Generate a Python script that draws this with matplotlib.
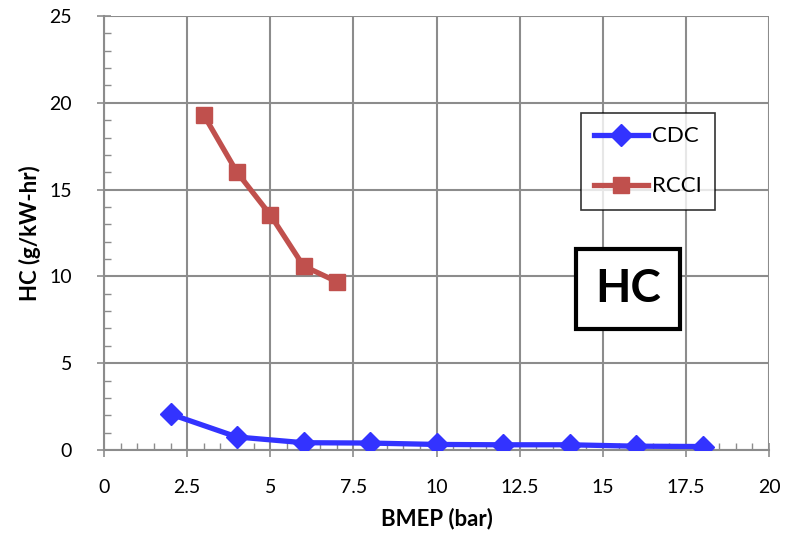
import numpy as np
import matplotlib
matplotlib.use("Agg")
import matplotlib.pyplot as plt
from matplotlib.ticker import MultipleLocator

plt.rcParams['font.family'] = ['Lato', 'DejaVu Sans']

# data
cdc_x = [2, 4, 6, 8, 10, 12, 14, 16, 18]
cdc_y = [2.07, 0.75, 0.42, 0.4, 0.32, 0.3, 0.3, 0.22, 0.2]
rcci_x = [3, 4, 5, 6, 7]
rcci_y = [19.3, 16.0, 13.55, 10.6, 9.7]

fig = plt.figure(figsize=(7.98, 5.4), dpi=100)
ax = fig.add_axes([104/798, 90/540, 665/798, 434/540])

grid_col = '#8c8c8c'
ax.plot(cdc_x, cdc_y, color='#3333ff', lw=3.8, marker='D', ms=11, label='CDC', zorder=3)
ax.plot(rcci_x, rcci_y, color='#c0504d', lw=3.8, marker='s', ms=12, label='RCCI', zorder=3)

ax.set_xlim(0, 20)
ax.set_ylim(0, 25)
ax.xaxis.set_major_locator(MultipleLocator(2.5))
ax.xaxis.set_minor_locator(MultipleLocator(0.5))
ax.yaxis.set_major_locator(MultipleLocator(5))
ax.yaxis.set_minor_locator(MultipleLocator(1))
ax.xaxis.set_major_formatter(plt.FuncFormatter(lambda v, p: ('%g' % v)))
ax.grid(True, which='major', color=grid_col, lw=1.5)
ax.tick_params(which='major', direction='inout', length=10, width=1.2, color=grid_col,
               labelsize=14)
ax.tick_params(axis='x', which='major', pad=16)
ax.tick_params(axis='y', which='major', pad=18)
ax.tick_params(which='minor', direction='in', length=5, width=1, color=grid_col)
for s in ['top', 'right']:
    ax.spines[s].set_visible(False)
for s in ['left', 'bottom']:
    ax.spines[s].set_color(grid_col)
    ax.spines[s].set_linewidth(1.5)

ax.set_xlabel('BMEP (bar)', fontsize=16, fontweight='bold', labelpad=8)
ax.set_ylabel('HC (g/kW-hr)', fontsize=16, fontweight='bold', labelpad=6)

leg = ax.legend(loc='upper left', fontsize=16,
                frameon=True, fancybox=False, edgecolor='black', handlelength=2.4,
                labelspacing=1.35, borderpad=0.6, handletextpad=0.2, borderaxespad=0)
leg.set_bbox_to_anchor((477/665, 337/434), transform=ax.transAxes)
leg.get_frame().set_linewidth(1.2)

ax.text(0.788, 0.371, 'HC', transform=ax.transAxes, fontsize=33, fontweight='bold',
        ha='center', va='center',
        bbox=dict(boxstyle='square,pad=0.42', fc='white', ec='black', lw=3))

fig.savefig('out.png', dpi=100)
